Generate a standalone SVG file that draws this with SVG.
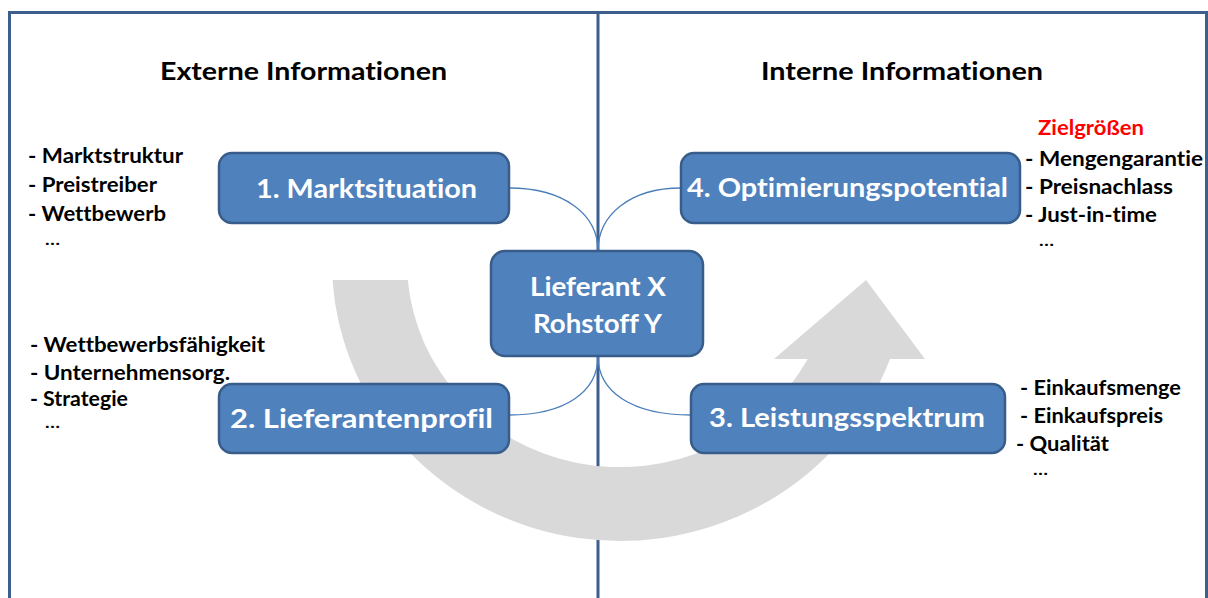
<svg xmlns="http://www.w3.org/2000/svg" width="1208" height="598" viewBox="0 0 1208 598">
  <style>
    text { font-variant-ligatures: none; font-feature-settings: "liga" 0, "clig" 0; }
    .frame { fill: none; stroke: #3c5f8d; stroke-width: 3; }
    .divider { stroke: #3c5f8d; stroke-width: 3; }
    .flow { fill: #d9d9d9; }
    .conn { fill: none; stroke: #4a7ebb; stroke-width: 1.3; }
    .box { fill: #4f81bd; stroke: #385d8a; stroke-width: 2.5; }
    .label { font-family: Lato, "Open Sans", sans-serif; font-weight: bold; fill: #ffffff; font-size: 27px; text-anchor: middle; }
    .head { font-family: Lato, "Open Sans", sans-serif; font-weight: bold; fill: #000000; font-size: 25.5px; }
    .item { font-family: Lato, "Open Sans", sans-serif; font-weight: bold; fill: #000000; font-size: 21px; }
    .more { font-family: Lato, "Open Sans", sans-serif; font-weight: bold; fill: #000000; font-size: 16px; }
    .goal { fill: #ff0000; }
  </style>

  <!-- outer frame and central divider -->
  <rect class="frame" x="9.5" y="12.5" width="1197" height="620"/>
  <line class="divider" x1="598" y1="12" x2="598" y2="598"/>

  <!-- large grey U-turn arrow -->
  <path class="flow" d="M332.6,280 A288,279 0 0 0 890,359 L925,359 L866,280 L774,359 L807.7,359 A213,205 0 0 1 407.8,280 Z"/>

  <!-- connectors -->
  <g id="connectors">
    <path class="conn" d="M509,188 C565,188 598,215 598,251"/>
    <path class="conn" d="M681,188 C630,188 598,215 598,251"/>
    <path class="conn" d="M598,356 C598,392 565,415 509,415"/>
    <path class="conn" d="M598,356 C598,392 632,415 691,415"/>
  </g>

  <!-- section headings -->
  <text class="head" x="160" y="80" textLength="287" lengthAdjust="spacingAndGlyphs">Externe Informationen</text>
  <text class="head" x="761" y="80" textLength="282" lengthAdjust="spacingAndGlyphs">Interne Informationen</text>

  <!-- nodes -->
  <g id="node-markt">
    <rect class="box" x="219" y="153" width="290" height="70" rx="13"/>
    <text class="label" x="366.5" y="198" textLength="221" lengthAdjust="spacingAndGlyphs">1. Marktsituation</text>
  </g>
  <g id="node-optimierung">
    <rect class="box" x="681" y="153" width="339" height="70" rx="13"/>
    <text class="label" x="847.5" y="197" textLength="321" lengthAdjust="spacingAndGlyphs">4. Optimierungspotential</text>
  </g>
  <g id="node-lieferant">
    <rect class="box" x="491" y="251" width="212" height="105" rx="14"/>
    <text class="label" x="598" y="296" textLength="136" lengthAdjust="spacingAndGlyphs">Lieferant X</text>
    <text class="label" x="597.5" y="333" textLength="129" lengthAdjust="spacingAndGlyphs">Rohstoff Y</text>
  </g>
  <g id="node-profil">
    <rect class="box" x="219" y="384" width="290" height="69" rx="13"/>
    <text class="label" x="361.5" y="428" textLength="263" lengthAdjust="spacingAndGlyphs">2. Lieferantenprofil</text>
  </g>
  <g id="node-leistung">
    <rect class="box" x="691" y="384" width="314" height="69" rx="13"/>
    <text class="label" x="847" y="427" textLength="276" lengthAdjust="spacingAndGlyphs">3. Leistungsspektrum</text>
  </g>

  <!-- market situation items -->
  <g id="list-markt">
    <text class="item" x="28" y="163" textLength="155" lengthAdjust="spacingAndGlyphs">- Marktstruktur</text>
    <text class="item" x="28" y="192" textLength="129" lengthAdjust="spacingAndGlyphs">- Preistreiber</text>
    <text class="item" x="28" y="221" textLength="138" lengthAdjust="spacingAndGlyphs">- Wettbewerb</text>
    <text class="more" x="45" y="245" textLength="15" lengthAdjust="spacingAndGlyphs">…</text>
  </g>

  <!-- supplier profile items -->
  <g id="list-profil">
    <text class="item" x="30" y="352" textLength="235" lengthAdjust="spacingAndGlyphs">- Wettbewerbsfähigkeit</text>
    <text class="item" x="30" y="380" textLength="200" lengthAdjust="spacingAndGlyphs">- Unternehmensorg.</text>
    <text class="item" x="30" y="406" textLength="98" lengthAdjust="spacingAndGlyphs">- Strategie</text>
    <text class="more" x="45" y="428" textLength="15" lengthAdjust="spacingAndGlyphs">…</text>
  </g>

  <!-- optimisation target items -->
  <g id="list-optimierung">
    <text class="item goal" x="1038" y="135" textLength="106" lengthAdjust="spacingAndGlyphs">Zielgrößen</text>
    <text class="item" x="1025" y="166" textLength="178" lengthAdjust="spacingAndGlyphs">- Mengengarantie</text>
    <text class="item" x="1025" y="194" textLength="148" lengthAdjust="spacingAndGlyphs">- Preisnachlass</text>
    <text class="item" x="1025" y="222" textLength="132" lengthAdjust="spacingAndGlyphs">- Just-in-time</text>
    <text class="more" x="1039" y="246" textLength="15" lengthAdjust="spacingAndGlyphs">…</text>
  </g>

  <!-- performance range items -->
  <g id="list-leistung">
    <text class="item" x="1020" y="395" textLength="161" lengthAdjust="spacingAndGlyphs">- Einkaufsmenge</text>
    <text class="item" x="1020" y="423" textLength="143" lengthAdjust="spacingAndGlyphs">- Einkaufspreis</text>
    <text class="item" x="1016" y="451" textLength="93" lengthAdjust="spacingAndGlyphs">- Qualität</text>
    <text class="more" x="1033" y="475" textLength="15" lengthAdjust="spacingAndGlyphs">…</text>
  </g>
</svg>
